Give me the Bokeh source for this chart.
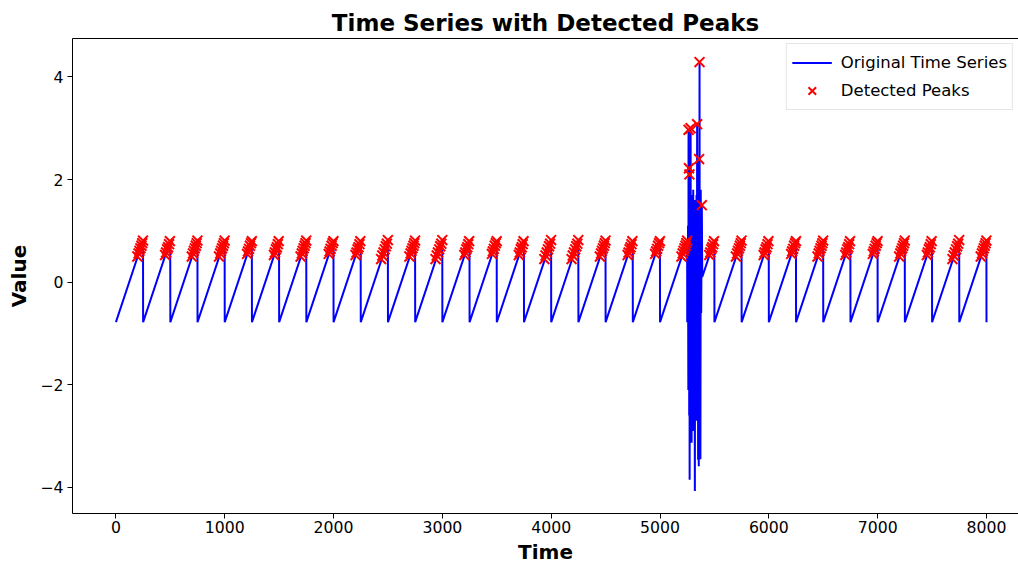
from bokeh.plotting import figure
from bokeh.models import Range1d, FixedTicker, LinearAxis, Legend, LegendItem
from bokeh.embed import file_html
from bokeh.resources import INLINE

# ---- data ----
cycle_start = [0, 250, 500, 750, 1000, 1250, 1500, 1750, 2000, 2250, 2500, 2750,
               3000, 3250, 3500, 3750, 4000, 4250, 4500, 4750, 5000, 5250, 5500,
               5750, 6000, 6250, 6500, 6750, 7000, 7250, 7500, 7750]
cycle_top = [249, 499, 749, 999, 1249, 1499, 1749, 1999, 2249, 2499, 2749, 2999,
             3249, 3499, 3749, 3999, 4249, 4499, 4749, 4999, 5249, 5499, 5749,
             5999, 6249, 6499, 6749, 6999, 7249, 7499, 7749, 7999]
ramp_low = -0.78
ramp_high = 0.81
series_end_t = 8000

burst_cycle = 5250
burst_t = [5254, 5257, 5260, 5262, 5264, 5266, 5268, 5270, 5272, 5275, 5278, 5281,
           5284, 5287, 5290, 5293, 5296, 5299, 5302, 5305, 5308, 5311, 5314, 5317,
           5320, 5323, 5326, 5329, 5332, 5335, 5338, 5341, 5344, 5347, 5350, 5353,
           5356, 5359, 5361, 5363, 5365, 5368, 5371, 5374, 5378, 5384, 5388]
burst_v = [-0.74, 1.1, -2.1, 2.97, -1.8, 2.22, -2.6, 2.1, -3.85, 1.6, -2.4, 3.0,
           -2.6, 1.5, -3.13, 1.7, -2.2, 1.4, -2.5, 1.8, -2.9, 1.3, -2.3, 1.1,
           -4.07, 1.6, -2.0, 1.3, -2.7, 1.7, -2.2, 3.08, -2.4, 1.5, -3.46, 1.8,
           -3.59, 2.4, -1.0, 4.29, -1.5, 1.2, -3.45, 1.8, -0.6, 1.5, 0.1]
burst_peak_t = [5262, 5266, 5270, 5281, 5341, 5359, 5363, 5384]
burst_peak_v = [2.97, 2.22, 2.1, 3.0, 3.08, 2.4, 4.29, 1.5]

# marker groups found just below each sawtooth top (offset from top, value)
group_dt = [[-52, -41, -33, -24, -15, -7, 0],
            [-47, -38, -29, -20, -11, -3],
            [-62, -51, -40, -29, -19, -9, 0],
            [-44, -35, -26, -17, -8, 0]]
group_v = [[0.50, 0.56, 0.61, 0.66, 0.71, 0.76, 0.81],
           [0.53, 0.58, 0.64, 0.68, 0.74, 0.80],
           [0.45, 0.52, 0.58, 0.64, 0.70, 0.75, 0.82],
           [0.55, 0.60, 0.65, 0.71, 0.76, 0.80]]
cycle_group = [0, 1, 0, 0, 3, 1, 0, 3, 1, 2, 0, 2, 1, 3, 1, 2, 2, 0, 1, 3,
               0, 1, 0, 1, 3, 0, 1, 3, 0, 1, 2, 0]

x_ticks = [0, 1000, 2000, 3000, 4000, 5000, 6000, 7000, 8000]
y_ticks = [-4, -2, 0, 2, 4]

# ---- build series ----
line_x, line_y = [], []
for s, t in zip(cycle_start, cycle_top):
    line_x.append(s)
    line_y.append(ramp_low)
    if s == burst_cycle:
        line_x += burst_t
        line_y += burst_v
    line_x.append(t)
    line_y.append(ramp_high)
line_x.append(series_end_t)
line_y.append(ramp_low)

peak_x, peak_y = [], []
for t, g in zip(cycle_top, cycle_group):
    for dt, v in zip(group_dt[g], group_v[g]):
        peak_x.append(t + dt)
        peak_y.append(v)
peak_x += burst_peak_t
peak_y += burst_peak_v

FONT = "DejaVu Sans"

p = figure(width=1018, height=566, x_range=Range1d(-399, 8294),
           y_range=Range1d(-4.51, 4.75), output_backend="svg",
           toolbar_location=None, min_border_left=72, min_border_right=0,
           min_border_top=38, min_border_bottom=52,
           x_axis_location=None, y_axis_location=None)
p.grid.visible = False
p.outline_line_color = None
p.background_fill_color = "white"
p.border_fill_color = "white"

p.title.text = "Time Series with Detected Peaks"
p.title.text_font = FONT
p.title.text_font_size = "23px"
p.title.text_font_style = "bold"
p.title.text_color = "black"
p.title.align = "center"
p.title.standoff = 6

def style_axis(ax):
    ax.axis_line_color = "black"
    ax.axis_line_width = 1
    ax.major_tick_line_color = "black"
    ax.major_tick_out = 5
    ax.major_tick_in = 0
    ax.minor_tick_out = 0
    ax.minor_tick_in = 0
    ax.major_label_text_font = FONT
    ax.major_label_text_font_size = "15.7px"
    ax.major_label_text_color = "black"
    ax.axis_label_text_font = FONT
    ax.axis_label_text_font_size = "20px"
    ax.axis_label_text_font_style = "bold"
    ax.axis_label_text_color = "black"

xa = LinearAxis(ticker=FixedTicker(ticks=x_ticks), axis_label="Time")
style_axis(xa)
xa.major_label_standoff = 2
xa.axis_label_standoff = 4
p.add_layout(xa, "below")

ya = LinearAxis(ticker=FixedTicker(ticks=y_ticks), axis_label="Value")
style_axis(ya)
ya.major_label_standoff = 4
ya.axis_label_standoff = 6
ya.major_label_overrides = {-4: "\u22124", -2: "\u22122"}
p.add_layout(ya, "left")

ta = LinearAxis(ticker=FixedTicker(ticks=[]))
ta.axis_line_color = "black"
ta.major_tick_out = 0
ta.minor_tick_out = 0
ta.major_label_text_font_size = "0px"
p.add_layout(ta, "above")

ln = p.line(line_x, line_y, line_color="#0000ff", line_width=2)
sc = p.scatter(peak_x, peak_y, marker="x", size=14, line_color="#ff0000",
               line_width=2)

legend = Legend(items=[LegendItem(label="Original Time Series", renderers=[ln]),
                       LegendItem(label="Detected Peaks", renderers=[sc])],
                location="top_right")
legend.label_text_font = FONT
legend.label_text_font_size = "16.5px"
legend.label_text_color = "black"
legend.glyph_width = 40
legend.glyph_height = 27
legend.label_height = 27
legend.label_standoff = 9
legend.padding = 5
legend.spacing = 1
legend.margin = 5
legend.border_line_color = "#cccccc"
legend.border_line_width = 1
legend.background_fill_alpha = 0.8
p.add_layout(legend)

open("out.html", "w").write(file_html(p, INLINE))
